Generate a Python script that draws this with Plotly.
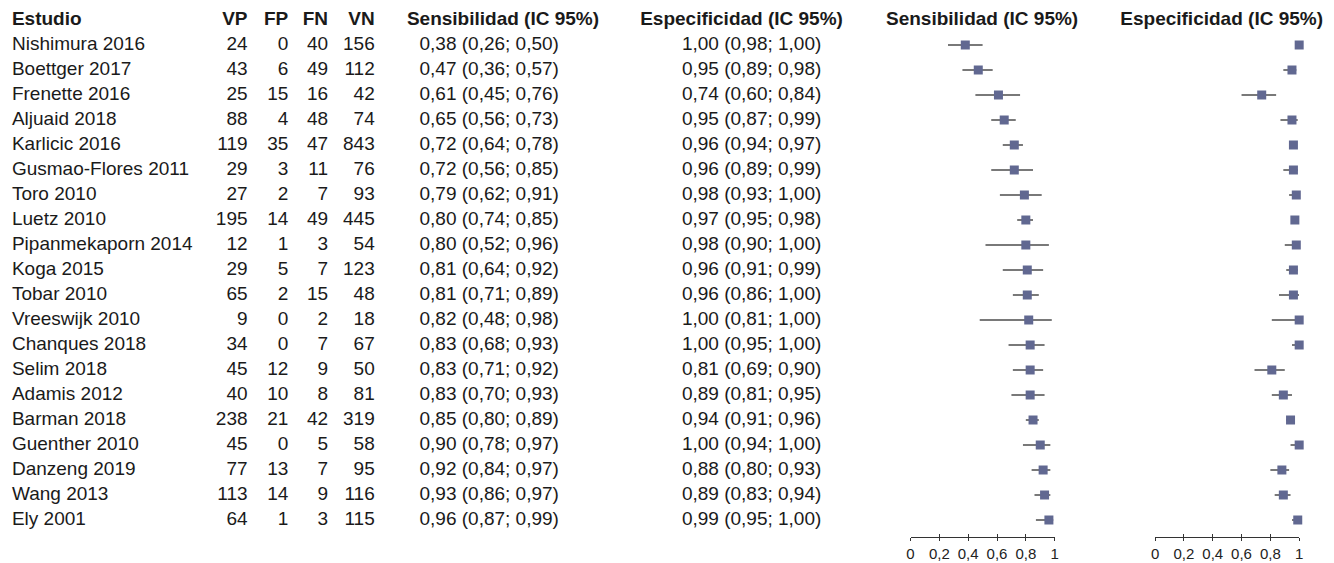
import plotly.graph_objects as go

studies = ["Nishimura 2016", "Boettger 2017", "Frenette 2016", "Aljuaid 2018", "Karlicic 2016",
           "Gusmao-Flores 2011", "Toro 2010", "Luetz 2010", "Pipanmekaporn 2014", "Koga 2015",
           "Tobar 2010", "Vreeswijk 2010", "Chanques 2018", "Selim 2018", "Adamis 2012",
           "Barman 2018", "Guenther 2010", "Danzeng 2019", "Wang 2013", "Ely 2001"]
vp = [24, 43, 25, 88, 119, 29, 27, 195, 12, 29, 65, 9, 34, 45, 40, 238, 45, 77, 113, 64]
fp = [0, 6, 15, 4, 35, 3, 2, 14, 1, 5, 2, 0, 0, 12, 10, 21, 0, 13, 14, 1]
fn = [40, 49, 16, 48, 47, 11, 7, 49, 3, 7, 15, 2, 7, 9, 8, 42, 5, 7, 9, 3]
vn = [156, 112, 42, 74, 843, 76, 93, 445, 54, 123, 48, 18, 67, 50, 81, 319, 58, 95, 116, 115]
sens = [0.38, 0.47, 0.61, 0.65, 0.72, 0.72, 0.79, 0.80, 0.80, 0.81, 0.81, 0.82, 0.83, 0.83, 0.83, 0.85, 0.90, 0.92, 0.93, 0.96]
sens_lo = [0.26, 0.36, 0.45, 0.56, 0.64, 0.56, 0.62, 0.74, 0.52, 0.64, 0.71, 0.48, 0.68, 0.71, 0.70, 0.80, 0.78, 0.84, 0.86, 0.87]
sens_hi = [0.50, 0.57, 0.76, 0.73, 0.78, 0.85, 0.91, 0.85, 0.96, 0.92, 0.89, 0.98, 0.93, 0.92, 0.93, 0.89, 0.97, 0.97, 0.97, 0.99]
spec = [1.00, 0.95, 0.74, 0.95, 0.96, 0.96, 0.98, 0.97, 0.98, 0.96, 0.96, 1.00, 1.00, 0.81, 0.89, 0.94, 1.00, 0.88, 0.89, 0.99]
spec_lo = [0.98, 0.89, 0.60, 0.87, 0.94, 0.89, 0.93, 0.95, 0.90, 0.91, 0.86, 0.81, 0.95, 0.69, 0.81, 0.91, 0.94, 0.80, 0.83, 0.95]
spec_hi = [1.00, 0.98, 0.84, 0.99, 0.97, 0.99, 1.00, 0.98, 1.00, 0.99, 1.00, 1.00, 1.00, 0.90, 0.95, 0.96, 1.00, 0.93, 0.94, 1.00]
headers = ["Estudio", "VP", "FP", "FN", "VN", "Sensibilidad (IC 95%)", "Especificidad (IC 95%)"]
tick_vals = [0, 0.2, 0.4, 0.6, 0.8, 1]
tick_text = ["0", "0,2", "0,4", "0,6", "0,8", "1"]

W, H = 1334, 563
FONT = "Liberation Sans, Arial, sans-serif"
TXT = "#1a1a1a"
FS = 19

def f2(v):
    return f"{v:.2f}".replace(".", ",")

def ci_str(e, lo, hi):
    return f"{f2(e)} ({f2(lo)}; {f2(hi)})"

rows = list(range(1, len(studies) + 1))
fig = go.Figure()

def text_col(x, texts, ys, pos, bold=False):
    t = [f"<b>{s}</b>" for s in texts] if bold else texts
    fig.add_trace(go.Scatter(x=[x] * len(t), y=ys, text=t, mode="text", textposition=pos,
                             textfont=dict(family=FONT, size=FS, color=TXT),
                             cliponaxis=False, hoverinfo="skip", showlegend=False,
                             xaxis="x", yaxis="y"))

# header
text_col(8, [headers[0]], [0], "middle right", True)
for x, h in zip([247, 288, 328, 375], headers[1:5]):
    text_col(x - 2, [h], [0], "middle left", True)
text_col(502, [headers[5]], [0], "middle center", True)
text_col(742, [headers[6]], [0], "middle center", True)
text_col(984, [headers[5]], [0], "middle center", True)
text_col(1225, [headers[6]], [0], "middle center", True)

# body
text_col(8, studies, rows, "middle right")
for x, col in zip([247, 288, 328, 375], [vp, fp, fn, vn]):
    text_col(x - 2, [str(v) for v in col], rows, "middle left")
text_col(418, [ci_str(e, l, h) for e, l, h in zip(sens, sens_lo, sens_hi)], rows, "middle right")
text_col(682, [ci_str(e, l, h) for e, l, h in zip(spec, spec_lo, spec_hi)], rows, "middle right")

MK = "#616891"
for xa, est, lo, hi in [("x2", sens, sens_lo, sens_hi), ("x3", spec, spec_lo, spec_hi)]:
    fig.add_trace(go.Scatter(
        x=est, y=rows, mode="markers", xaxis=xa, yaxis="y",
        marker=dict(symbol="square", size=9, color=MK, line=dict(width=0)),
        error_x=dict(type="data", symmetric=False,
                     array=[h - e for e, h in zip(est, hi)],
                     arrayminus=[e - l for e, l in zip(est, lo)],
                     width=0, thickness=1.4, color="#4d4d4d"),
        cliponaxis=False, showlegend=False, hoverinfo="skip"))

for xa in ["x4", "x5"]:
    fig.add_trace(go.Scatter(x=[None], y=[None], xaxis=xa, yaxis="y", showlegend=False,
                             hoverinfo="skip", mode="markers"))

ybot = (H - 537) / H
d1 = [912 / W, 1057 / W]
d2 = [1158 / W, 1303 / W]

def forest_axis(domain, inside=True, overlay=None):
    ax = dict(domain=domain, range=[0, 1], anchor="y", showgrid=False, zeroline=False,
              tickvals=tick_vals, ticktext=tick_text, ticklen=3, tickwidth=1.3,
              tickcolor="#333", tickfont=dict(family=FONT, size=15, color="#222"))
    if inside:
        ax.update(ticks="inside", showticklabels=False, showline=True, linecolor="#333", linewidth=1.4)
    else:
        ax.update(ticks="outside", showticklabels=True, showline=False, overlaying=overlay)
    return ax

fig.update_layout(
    width=W, height=H, margin=dict(l=0, r=0, t=0, b=0),
    paper_bgcolor="white", plot_bgcolor="rgba(0,0,0,0)",
    xaxis=dict(domain=[0, 1], range=[0, W], visible=False, anchor="y"),
    xaxis2=forest_axis(d1, True),
    xaxis3=forest_axis(d2, True),
    xaxis4=forest_axis(d1, False, "x2"),
    xaxis5=forest_axis(d2, False, "x3"),
    yaxis=dict(domain=[ybot, 1], range=[20.68, -0.80], visible=False),
    showlegend=False,
)

fig.write_html("out.html", config={"displayModeBar": False},
               post_script="document.body.style.margin='0px';")
